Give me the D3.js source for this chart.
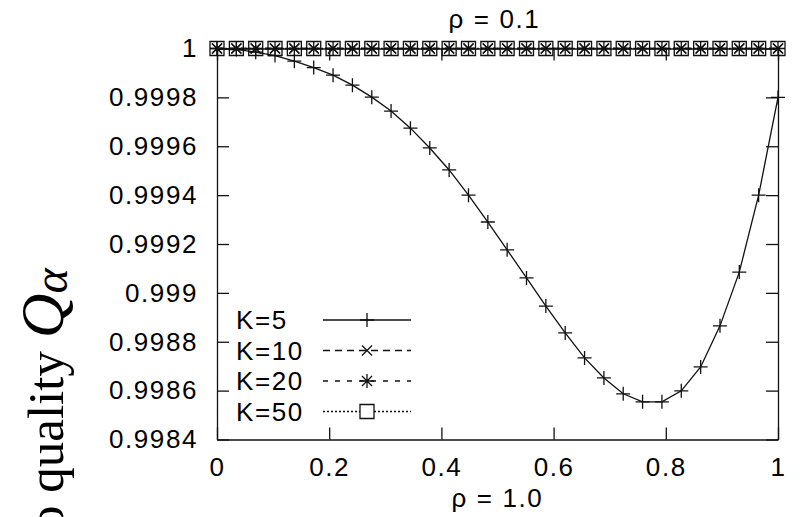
<!DOCTYPE html>
<html><head><meta charset="utf-8">
<script src="https://cdn.jsdelivr.net/npm/d3@7"></script>
<style>body{margin:0;background:#fff}svg{display:block}</style>
</head><body>
<svg id="c" width="800" height="517"></svg>
<script>
// ---------- data ----------
const xValues = [0, 0.0345, 0.069, 0.1034, 0.1379, 0.1724, 0.2069, 0.2414, 0.2759, 0.3103,
  0.3448, 0.3793, 0.4138, 0.4483, 0.4828, 0.5172, 0.5517, 0.5862, 0.6207, 0.6552,
  0.6897, 0.7241, 0.7586, 0.7931, 0.8276, 0.8621, 0.8966, 0.931, 0.9655, 1];
const k5 = [1.0, 0.999996, 0.999985, 0.999971, 0.999948, 0.999922, 0.999891, 0.99985, 0.999801, 0.999744,
  0.999674, 0.999593, 0.999503, 0.9994, 0.99929, 0.999176, 0.999061, 0.998946, 0.998836, 0.998734,
  0.998652, 0.998587, 0.998554, 0.998554, 0.998599, 0.998697, 0.998865, 0.999085, 0.9994, 0.9998];
const k10 = [1,1,1,1,1,1,1,1,1,1, 1,1,1,1,1,1,1,1,1,1, 1,1,1,1,1,1,1,1,1,1];
const k20 = [1,1,1,1,1,1,1,1,1,1, 1,1,1,1,1,1,1,1,1,1, 1,1,1,1,1,1,1,1,1,1];
const k50 = [1,1,1,1,1,1,1,1,1,1, 1,1,1,1,1,1,1,1,1,1, 1,1,1,1,1,1,1,1,1,1];
const seriesNames = ["K=5", "K=10", "K=20", "K=50"];
const xTicks = [0, 0.2, 0.4, 0.6, 0.8, 1];
const xTickLabels = ["0", "0.2", "0.4", "0.6", "0.8", "1"];
const yTicks = [0.9984, 0.9986, 0.9988, 0.999, 0.9992, 0.9994, 0.9996, 0.9998, 1];
const yTickLabels = ["0.9984", "0.9986", "0.9988", "0.999", "0.9992", "0.9994", "0.9996", "0.9998", "1"];
const topLabel = "\u03c1 = 0.1";
const bottomLabel = "\u03c1 = 1.0";

// ---------- layout ----------
const L = 217, R = 778, T = 48.5, B = 439.5;
const svg = d3.select("#c");
const x = d3.scaleLinear().domain([0, 1]).range([L, R]);
const y = d3.scaleLinear().domain([0.9984, 1]).range([B, T]);
const INK = "#111";
const FONT = "'Liberation Sans', Arial, sans-serif";
const FS = "26px", LS = "1.6px";

const markers = {
  plus: s => `M${-s},0H${s}M0,${-s}V${s}`,
  cross: s => `M${-s},${-s}L${s},${s}M${-s},${s}L${s},${-s}`,
  star: s => `M${-s},0H${s}M0,${-s}V${s}M${-s*0.72},${-s*0.72}L${s*0.72},${s*0.72}M${-s*0.72},${s*0.72}L${s*0.72},${-s*0.72}`,
  square: s => `M${-s},${-s}H${s}V${s}H${-s}Z`
};
const series = [
  {name: seriesNames[0], values: k5, dash: null, marker: "plus", size: 7},
  {name: seriesNames[1], values: k10, dash: "7,5", marker: "cross", size: 5},
  {name: seriesNames[2], values: k20, dash: "5,7", marker: "star", size: 7},
  {name: seriesNames[3], values: k50, dash: "2,2", marker: "square", size: 7}
];

// ---------- axes ----------
function styleText(sel) {
  sel.attr("fill", "#000").style("font-family", FONT).style("font-size", FS).style("letter-spacing", LS);
}
function styleAxis(g) {
  g.selectAll("path.domain").attr("stroke", INK).attr("stroke-width", 1.3);
  g.selectAll(".tick line").attr("stroke", INK).attr("stroke-width", 1.3);
  g.selectAll(".tick text").call(styleText);
}
svg.append("g").attr("transform", `translate(${L},0)`)
  .call(d3.axisLeft(y).tickValues(yTicks).tickSizeInner(-12).tickSizeOuter(0).tickPadding(19)
    .tickFormat((d, i) => yTickLabels[i])).call(styleAxis);
svg.append("g").attr("transform", `translate(${R},0)`)
  .call(d3.axisRight(y).tickValues(yTicks).tickSizeInner(-12).tickSizeOuter(0).tickFormat(""))
  .call(styleAxis);
svg.append("g").attr("transform", `translate(0,${B})`)
  .call(d3.axisBottom(x).tickValues(xTicks).tickSizeInner(-12).tickSizeOuter(0).tickPadding(18)
    .tickFormat((d, i) => xTickLabels[i])).call(styleAxis);
svg.append("g").attr("transform", `translate(0,${T})`)
  .call(d3.axisTop(x).tickValues(xTicks).tickSizeInner(-12).tickSizeOuter(0).tickFormat(""))
  .call(styleAxis);

// ---------- series ----------
const line = d3.line().x((d, i) => x(xValues[i])).y(d => y(d));
series.forEach(s => {
  const g = svg.append("g");
  g.append("path").attr("d", line(s.values)).attr("fill", "none")
    .attr("stroke", INK).attr("stroke-width", 1.3)
    .attr("stroke-dasharray", s.dash);
  g.selectAll("path.m").data(s.values).enter().append("path").attr("class", "m")
    .attr("transform", (d, i) => `translate(${x(xValues[i])},${y(d)})`)
    .attr("d", markers[s.marker](s.size))
    .attr("fill", "none").attr("stroke", INK).attr("stroke-width", 1.3);
});

// ---------- legend ----------
const lg = svg.append("g");
series.forEach((s, i) => {
  const cy = 320 + i * 30.5;
  lg.append("text").attr("x", 236).attr("y", cy).attr("dy", "0.36em").call(styleText).text(s.name);
  const segs = s.marker === "square" ? [[323, 360], [374, 411]] : [[323, 411]];
  segs.forEach(sg => lg.append("line").attr("x1", sg[0]).attr("x2", sg[1]).attr("y1", cy).attr("y2", cy)
    .attr("stroke", INK).attr("stroke-width", 1.3).attr("stroke-dasharray", s.dash));
  lg.append("path").attr("transform", `translate(367,${cy})`).attr("d", markers[s.marker](s.size))
    .attr("fill", "none").attr("stroke", INK).attr("stroke-width", 1.3);
});

// ---------- labels ----------
svg.append("text").attr("x", (L + R) / 2 - 3).attr("y", 28).attr("text-anchor", "middle")
  .call(styleText).text(topLabel);
svg.append("text").attr("x", (L + R) / 2).attr("y", 507).attr("text-anchor", "middle")
  .call(styleText).text(bottomLabel);

const yl = svg.append("text").attr("transform", "translate(63,531) rotate(-90)")
  .style("font-family", "'Liberation Serif', 'Times New Roman', serif").style("font-size", "51px");
yl.append("tspan").text("o quality ");
yl.append("tspan").style("font-style", "italic").style("font-size", "62px").text("Q");
yl.append("tspan").style("font-style", "italic").style("font-size", "48px").attr("dy", 4).text("\u03b1");
</script>
</body></html>
